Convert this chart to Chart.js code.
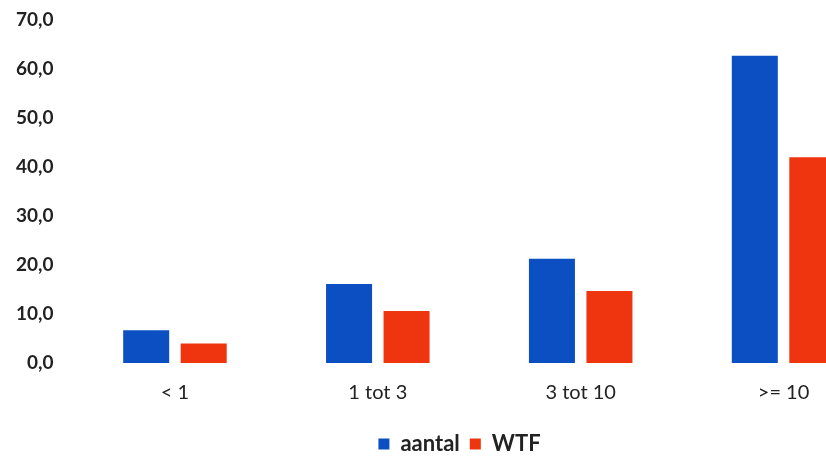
<!DOCTYPE html>
<html>
<head>
<meta charset="utf-8">
<script src="https://cdn.jsdelivr.net/npm/chart.js@4/dist/chart.umd.min.js"></script>
<style>
  html, body { margin: 0; padding: 0; background: #fff; }
  #wrap { width: 826px; height: 457px; overflow: hidden; position: relative; }
  canvas { display: block; }
</style>
</head>
<body>
<div id="wrap">
  <canvas id="chart" width="920" height="457"></canvas>
</div>
<script>
// data
const categories = ['< 1', '1 tot 3', '3 tot 10', '>= 10'];
const aantal = [6.7, 16.1, 21.3, 62.7];
const wtf = [4.0, 10.6, 14.7, 42.0];
const yTicks = [0, 10, 20, 30, 40, 50, 60, 70];

const fontFamily = 'Lato, "Open Sans", sans-serif';

// the legend sits centred under the whole picture, not under the plot
const shiftLegend = {
  id: 'shiftLegend',
  afterLayout(chart) {
    const lg = chart.legend;
    lg.left += 19;
    lg.right += 19;
    if (lg.legendHitBoxes) lg.legendHitBoxes.forEach(b => { b.left += 19; });
  }
};

const ctx = document.getElementById('chart').getContext('2d');
new Chart(ctx, {
  type: 'bar',
  data: {
    labels: categories,
    datasets: [
      { label: 'aantal', data: aantal, backgroundColor: '#0b4fc3' },
      { label: 'WTF', data: wtf, backgroundColor: '#ef3410' }
    ]
  },
  options: {
    responsive: false,
    animation: false,
    layout: { padding: { left: -4, right: 35, top: 0, bottom: -8 } },
    datasets: {
      bar: { categoryPercentage: 0.567, barPercentage: 0.8 }
    },
    scales: {
      x: {
        grid: { display: false, drawTicks: false },
        border: { display: false },
        ticks: {
          color: '#222',
          padding: 18,
          font: { family: fontFamily, size: 20 }
        }
      },
      y: {
        min: 0,
        max: 70,
        afterBuildTicks: axis => { axis.ticks = yTicks.map(v => ({ value: v })); },
        afterFit: axis => { axis.paddingTop = 20; },
        grid: { display: false, drawTicks: false },
        border: { display: false },
        ticks: {
          color: '#222',
          padding: 20,
          font: { family: fontFamily, size: 19, weight: 'bold' },
          callback: v => v.toFixed(1).replace('.', ',')
        }
      }
    },
    plugins: {
      tooltip: { enabled: false },
      legend: {
        position: 'bottom',
        labels: {
          color: '#222',
          boxWidth: 11,
          boxHeight: 11,
          padding: 10,
          font: { family: fontFamily, size: 22, weight: 'bold' }
        }
      }
    }
  },
  plugins: [shiftLegend]
});
</script>
</body>
</html>
